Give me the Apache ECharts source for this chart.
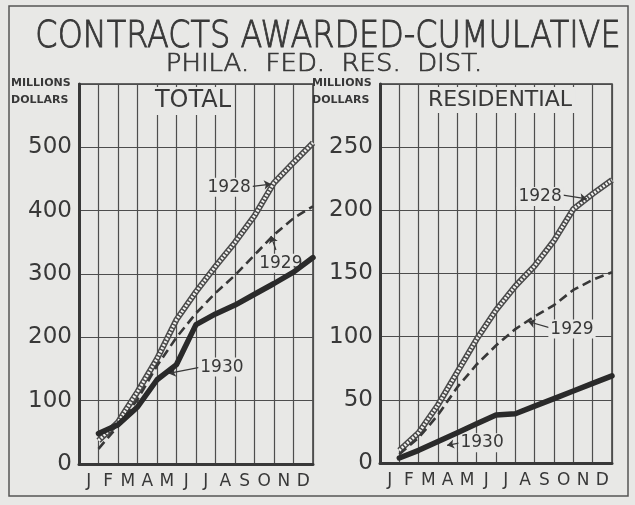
<!DOCTYPE html>
<html>
<head>
<meta charset="utf-8">
<script src="https://cdn.jsdelivr.net/npm/echarts@6/dist/echarts.min.js"></script>
<style>
  html, body { margin: 0; padding: 0; background: #e8e8e6; }
  #chart { width: 635px; height: 505px; }
</style>
</head>
<body>
<div id="chart"></div>
<script>
// month labels and month-end positions (cumulative value at end of each month)
var months = ["J", "F", "M", "A", "M", "J", "J", "A", "S", "O", "N", "D"];
var monthEnd = [1, 2, 3, 4, 5, 6, 7, 8, 9, 10, 11, 12];

// TOTAL, millions of dollars
var total1928 = [37, 66, 114, 166, 228, 272, 312, 350, 392, 444, 476, 507];
var total1929 = [24, 60, 102, 155, 200, 238, 270, 298, 330, 362, 388, 407];
var total1930 = [48, 62, 90, 133, 157, 220, 237, 251, 268, 285, 303, 326];

// RESIDENTIAL, millions of dollars
var res1928 = [10, 24, 46, 72, 98, 121, 140, 156, 176, 201, 213, 224];
var res1929 = [7, 20, 38, 60, 78, 93, 106, 116, 125, 137, 145, 151];
var res1930 = [4, 10, 17, 24, 31, 38, 39, 45, 51, 57, 63, 69];

var totalTicks = [0, 100, 200, 300, 400, 500];
var resTicks = [0, 50, 100, 150, 200, 250];

var paper = "#e8e8e6";
var ink = "#383838";
var font = "DejaVu Sans";

function pairs(ys) {
  return ys.map(function (v, i) { return [monthEnd[i], v]; });
}

function note(text, x, y) {
  return {
    coord: [x, y], value: text, symbol: "circle", symbolSize: 1,
    itemStyle: { color: "rgba(0,0,0,0)" },
    label: {
      show: true, position: "inside", formatter: text,
      fontFamily: font, fontSize: 17, color: ink,
      backgroundColor: paper, padding: [1, 2]
    }
  };
}

function leader(x1, y1, x2, y2, curve) {
  return [{ coord: [x1, y1] }, { coord: [x2, y2], lineStyle: { curveness: curve || 0 } }];
}

function panelSeries(idx, d28, d29, d30, notes, leaders) {
  var ax = { xAxisIndex: idx * 2, yAxisIndex: idx };
  return [
    Object.assign({
      name: "1928", type: "line", data: pairs(d28), symbol: "none", z: 2,
      lineStyle: { color: "#4a4a4a", width: 6 }
    }, ax),
    Object.assign({
      name: "1928h", type: "line", data: pairs(d28), symbol: "none", z: 3,
      lineStyle: { color: "#f2f2f0", width: 3, type: [2, 1.5] }
    }, ax),
    Object.assign({
      name: "1929", type: "line", data: pairs(d29), symbol: "none", z: 4,
      lineStyle: { color: ink, width: 2.6, type: [9, 5] }
    }, ax),
    Object.assign({
      name: "1930", type: "line", data: pairs(d30), symbol: "none", z: 5,
      lineStyle: { color: "#2a2a2a", width: 5.5, cap: "round", join: "round" },
      markPoint: { silent: true, animation: false, data: notes },
      markLine: {
        silent: true, animation: false, symbol: ["none", "arrow"], symbolSize: 7,
        label: { show: false },
        lineStyle: { color: ink, width: 1.2, type: "solid" },
        data: leaders
      }
    }, ax)
  ];
}

function valueX(g) {
  return {
    type: "value", gridIndex: g, position: "bottom", min: 0, max: 12, interval: 1,
    axisLabel: { show: false }, axisTick: { show: false },
    axisLine: { show: true, lineStyle: { color: ink, width: 3 } },
    splitLine: { show: true, lineStyle: { color: "#4d4d4d", width: 1.2 } }
  };
}

function monthX(g) {
  return {
    type: "category", gridIndex: g, position: "bottom", offset: 0,
    data: months, boundaryGap: true,
    axisLine: { show: false }, axisTick: { show: false }, splitLine: { show: false },
    axisLabel: { fontFamily: font, fontSize: 17, color: ink, margin: 9, interval: 0 }
  };
}

function valueY(g, max, step, ticks) {
  return {
    type: "value", gridIndex: g, min: 0, max: max, interval: step,
    axisTick: { show: false },
    axisLine: { show: true, lineStyle: { color: ink, width: 3 } },
    axisLabel: {
      fontFamily: font, fontSize: 23, color: ink, margin: 7,
      formatter: function (v) { return ticks.indexOf(v) >= 0 ? String(v) : ""; }
    },
    splitLine: { show: true, lineStyle: { color: "#4d4d4d", width: 1.2 } }
  };
}

var chart = echarts.init(document.getElementById("chart"));
chart.setOption({
  backgroundColor: paper,
  animation: false,
  grid: [
    { left: 79, right: 322, top: 84, bottom: 41, show: true, borderColor: ink, borderWidth: 1.5 },
    { left: 380, right: 23, top: 84, bottom: 42, show: true, borderColor: ink, borderWidth: 1.5 }
  ],
  xAxis: [valueX(0), monthX(0), valueX(1), monthX(1)],
  yAxis: [valueY(0, 600, 100, totalTicks), valueY(1, 300, 50, resTicks)],
  series: [].concat(
    panelSeries(0, total1928, total1929, total1930,
      [note("1928", 7.7, 437), note("1929", 10.35, 317), note("1930", 7.33, 153)],
      [leader(8.8, 438, 9.85, 442), leader(10.1, 338, 9.85, 360, 0.3), leader(6.25, 153, 4.6, 143, 0.2)]),
    panelSeries(1, res1928, res1929, res1930,
      [note("1928", 8.28, 211), note("1929", 9.93, 106), note("1930", 5.28, 16)],
      [leader(9.47, 212, 10.7, 209), leader(8.8, 107, 7.66, 112), leader(4.14, 16, 3.47, 14)])
  ),
  graphic: [
    { type: "rect", shape: { x: 9, y: 6, width: 619, height: 490 }, z: 0,
      style: { fill: "none", stroke: "#555", lineWidth: 1.5 } },
    { type: "text", x: 328, y: 37, scaleX: 0.84, z: 10,
      style: { text: "CONTRACTS AWARDED-CUMULATIVE", font: "200 38px " + font, fill: ink,
               stroke: ink, lineWidth: 0.9,
               textAlign: "center", textVerticalAlign: "middle" } },
    { type: "text", x: 324, y: 65, scaleX: 1.08, z: 10,
      style: { text: "PHILA.  FED.  RES.  DIST.", font: "200 24px " + font, fill: ink,
               stroke: ink, lineWidth: 0.7,
               textAlign: "center", textVerticalAlign: "middle" } },
    { type: "text", x: 193, y: 101, z: 10,
      style: { text: "TOTAL", font: "24px " + font, fill: ink, backgroundColor: paper,
               padding: [2, 3], textAlign: "center", textVerticalAlign: "middle" } },
    { type: "text", x: 500, y: 100, z: 10,
      style: { text: "RESIDENTIAL", font: "22px " + font, fill: ink, backgroundColor: paper,
               padding: [2, 3], textAlign: "center", textVerticalAlign: "middle" } },
    { type: "text", x: 11, y: 75, z: 10,
      style: { text: "MILLIONS\nDOLLARS", font: "bold 11px " + font, fill: ink, lineHeight: 17 } },
    { type: "text", x: 312, y: 75, z: 10,
      style: { text: "MILLIONS\nDOLLARS", font: "bold 11px " + font, fill: ink, lineHeight: 17 } }
  ]
});
</script>
</body>
</html>
